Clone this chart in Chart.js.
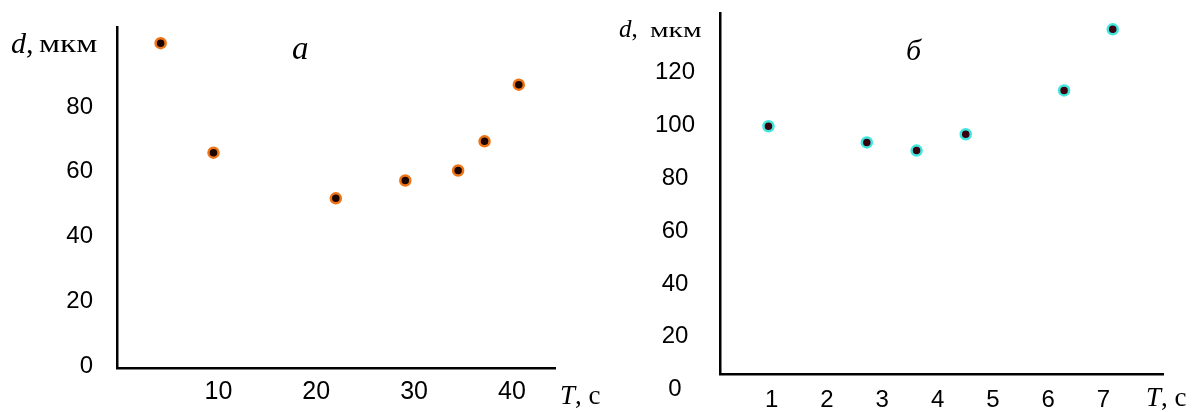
<!DOCTYPE html>
<html>
<head>
<meta charset="utf-8">
<script src="https://cdn.jsdelivr.net/npm/chart.js@4.4.1/dist/chart.umd.min.js"></script>
<style>
  body { margin: 0; background: #fff; }
  #wrap { position: relative; width: 1193px; height: 412px; overflow: hidden; background: #fff; }
  canvas { position: absolute; top: 0; }
  #chartA { left: 0; }
  #chartB { left: 593px; }
  .lbl { position: absolute; font-family: "Liberation Serif", "Times New Roman", serif; color: #000; white-space: nowrap; line-height: 1; }
  .it { font-style: italic; }
  .wide { transform-origin: left center; }
</style>
</head>
<body>
<div id="wrap">
  <canvas id="chartA" width="593" height="412"></canvas>
  <canvas id="chartB" width="600" height="412"></canvas>

  <!-- panel a labels -->
  <div class="lbl" style="left:11px; top:28px; font-size:30px;"><span class="it">d</span>,</div>
  <div class="lbl wide" style="left:39px; top:31px; font-size:26px; transform:scaleX(1.28);">мкм</div>
  <div class="lbl it" style="left:292px; top:32px; font-size:33px;">а</div>
  <div class="lbl" style="left:560px; top:382px; font-size:27px;"><span class="it">T</span>, с</div>

  <!-- panel б labels -->
  <div class="lbl" style="left:619px; top:16px; font-size:25px;"><span class="it">d</span>,</div>
  <div class="lbl wide" style="left:650px; top:20px; font-size:21px; transform:scaleX(1.4);">мкм</div>
  <div class="lbl it" style="left:906px; top:35px; font-size:30px;">б</div>
  <div class="lbl" style="left:1146px; top:384px; font-size:27px;"><span class="it">T</span>, с</div>
</div>

<script>
// panel a: d (мкм) against T (с)
const timeA = [4.1, 9.5, 22.0, 29.1, 34.5, 37.2, 40.7];
const sizeA = [99.7, 65.9, 51.8, 57.3, 60.4, 69.4, 86.9];
const xTicksA = [10, 20, 30, 40];
const yTicksA = [0, 20, 40, 60, 80];

// panel б
const timeB = [0.94, 2.72, 3.62, 4.51, 6.29, 7.17];
const sizeB = [99.7, 93.6, 90.5, 96.7, 113.3, 136.4];
const xTicksB = [1, 2, 3, 4, 5, 6, 7];
const yTicksB = [0, 20, 40, 60, 80, 100, 120];

function axis(o) {
    return {
        type: 'linear',
        min: o.min,
        max: o.max,
        grid: { display: false, drawTicks: false },
        border: { display: true, color: '#000', width: 2.5 },
        ticks: {
            color: '#000',
            font: { family: '"Liberation Sans", Arial, sans-serif', size: o.fontSize },
            padding: o.padding,
            autoSkip: false,
            maxRotation: 0,
            crossAlign: o.crossAlign || 'near'
        },
        afterBuildTicks: scale => { scale.ticks = o.ticks.map(v => ({ value: v })); },
        afterFit: scale => {
            // keep the plot area where the layout padding puts it
            scale.paddingTop = 0;
            scale.paddingBottom = 0;
            scale.paddingLeft = 0;
            scale.paddingRight = 0;
            if (o.width) scale.width = o.width;
            if (o.height) scale.height = o.height;
        }
    };
}

function makeChart(id, xs, ys, o) {
    const points = xs.map((x, i) => ({ x: x, y: ys[i] }));
    return new Chart(document.getElementById(id), {
        type: 'scatter',
        data: {
            datasets: [{
                data: points,
                pointRadius: 5,
                pointBackgroundColor: o.fill,
                pointBorderColor: o.ring,
                pointBorderWidth: 2.5
            }]
        },
        options: {
            responsive: false,
            animation: false,
            layout: { padding: o.layout },
            plugins: { legend: { display: false }, tooltip: { enabled: false } },
            scales: { x: axis(o.x), y: axis(o.y) }
        }
    });
}

makeChart('chartA', timeA, sizeA, {
    fill: '#1a0500',
    ring: '#ee7416',
    layout: { top: 27, right: 38, left: 0, bottom: 0 },
    x: { min: -0.36, max: 44.4, ticks: xTicksA, fontSize: 25, padding: 9.5, height: 44 },
    y: { min: -0.6, max: 104.7, ticks: yTicksA, fontSize: 24, padding: 24, width: 117 }
});

makeChart('chartB', timeB, sizeB, {
    fill: '#3a0010',
    ring: '#40e6dc',
    layout: { top: 13, right: 30, left: 0, bottom: 0 },
    x: { min: 0.063, max: 8.08, ticks: xTicksB, fontSize: 24, padding: 11.5, height: 38 },
    y: { min: 5.9, max: 142.6, ticks: yTicksB, fontSize: 24, padding: 25, width: 127, crossAlign: 'center' }
});
</script>
</body>
</html>
